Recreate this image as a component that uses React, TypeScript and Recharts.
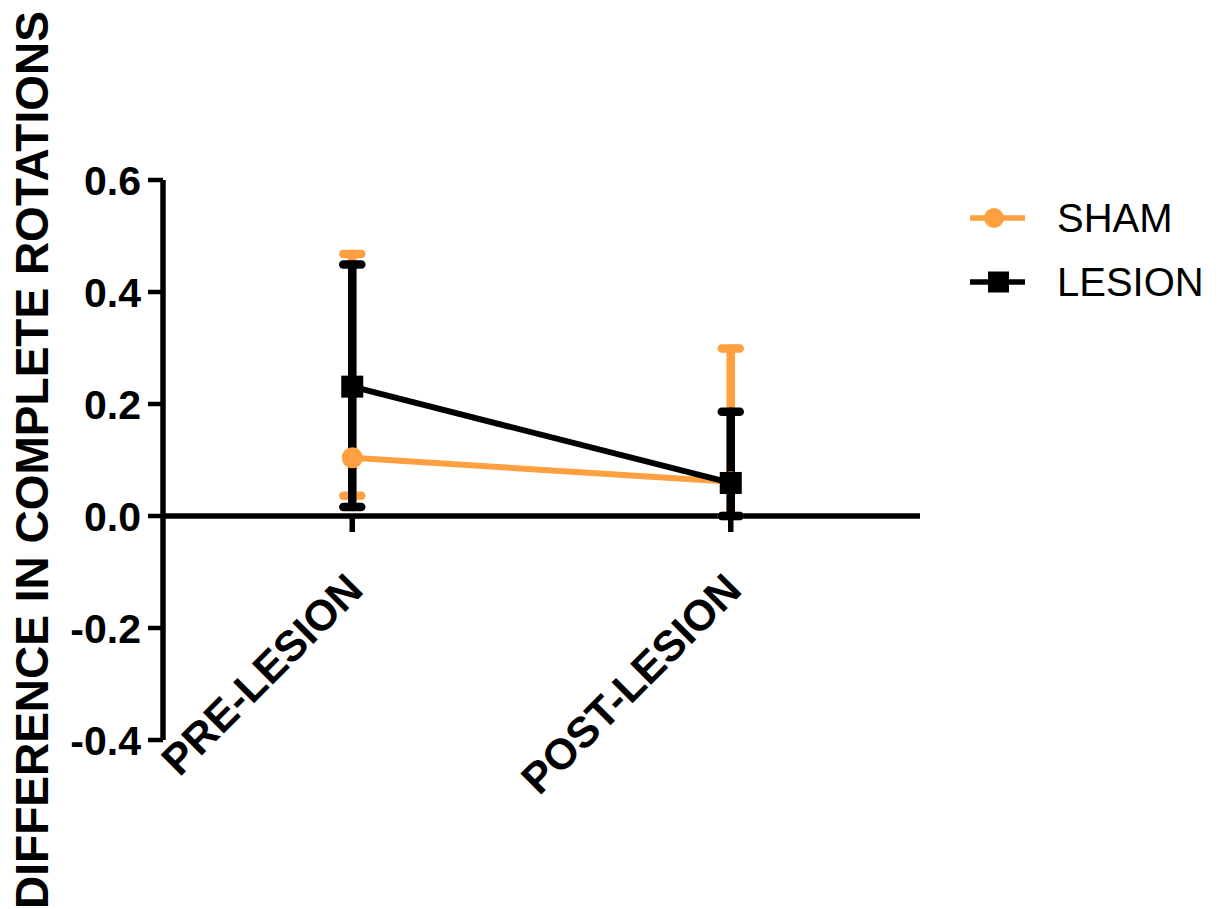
import { LineChart, Line, XAxis, YAxis, ErrorBar, ReferenceLine, Legend, Label } from "recharts";

const phases = ["PRE-LESION", "POST-LESION"];

const shamMean = [0.104, 0.061];
const shamLow = [0.036, 0.0];
const shamHigh = [0.468, 0.299];

const lesionMean = [0.231, 0.059];
const lesionLow = [0.016, 0.0];
const lesionHigh = [0.449, 0.186];

const seriesOrder = ["SHAM", "LESION"];
const yTicks = [-0.4, -0.2, 0, 0.2, 0.4, 0.6];
const Y_MIN = -0.4;
const Y_MAX = 0.6;

const ORANGE = "#FFA040";
const FONT = "'Liberation Sans', Arial, sans-serif";
const MARGIN = { top: 180, right: 305, bottom: 139, left: 0 };
const AXIS_W = 5.5;

const data = phases.map((phase, i) => ({
  phase,
  sham: shamMean[i],
  shamErr: [shamMean[i] - shamLow[i], shamHigh[i] - shamMean[i]],
  lesion: lesionMean[i],
  lesionErr: [lesionMean[i] - lesionLow[i], lesionHigh[i] - lesionMean[i]],
}));

// x ticks sit on the zero line rather than at the bottom of the plot
function PhaseTick({ x, y, payload }: any) {
  const plotH = y - MARGIN.top;
  const zeroY = y - ((0 - Y_MIN) / (Y_MAX - Y_MIN)) * plotH;
  const tx = x + 13;
  const ty = zeroY + 76;
  return (
    <g>
      <line x1={x} y1={zeroY} x2={x} y2={zeroY + 16} stroke="#000" strokeWidth={AXIS_W} />
      <text
        x={tx}
        y={ty}
        transform={`rotate(-45, ${tx}, ${ty})`}
        textAnchor="end"
        fontFamily={FONT}
        fontWeight="bold"
        fontSize={43}
        fill="#000"
      >
        {payload.value}
      </text>
    </g>
  );
}

function YTitle({ viewBox }: any) {
  const x = viewBox.x + 48;
  const y = viewBox.y + viewBox.height / 2;
  return (
    <text
      x={x}
      y={y}
      transform={`rotate(-90, ${x}, ${y})`}
      textAnchor="middle"
      fontFamily={FONT}
      fontWeight="bold"
      fontSize={46}
      fill="#000"
    >
      DIFFERENCE IN COMPLETE ROTATIONS
    </text>
  );
}

function SquareDot(props: any) {
  const { cx, cy, index } = props;
  return <rect key={`sq-${index}`} x={cx - 11} y={cy - 11} width={22} height={22} fill="#000" />;
}

function LegendBox({ payload }: any) {
  const items = [...(payload || [])].sort(
    (a: any, b: any) => seriesOrder.indexOf(a.value) - seriesOrder.indexOf(b.value)
  );
  return (
    <svg width={250} height={130}>
      {items.map((item: any, i: number) => {
        const cy = 23 + i * 64;
        return (
          <g key={item.value}>
            <line x1={5} y1={cy} x2={60} y2={cy} stroke={item.color} strokeWidth={5.5} />
            {item.type === "square" ? (
              <rect x={23} y={cy - 10.5} width={21} height={21} fill={item.color} />
            ) : (
              <circle cx={29} cy={cy} r={10} fill={item.color} />
            )}
            <text x={92} y={cy + 14} fontFamily={FONT} fontSize={40} fill="#000">
              {item.value}
            </text>
          </g>
        );
      })}
    </svg>
  );
}

export default function App() {
  return (
    <div style={{ position: "absolute", left: 0, top: 0, background: "#fff" }}>
      <LineChart width={1225} height={909} data={data} margin={MARGIN}>
        <XAxis
          dataKey="phase"
          scale="band"
          height={30}
          axisLine={false}
          tickLine={false}
          tickSize={0}
          tickMargin={0}
          tick={<PhaseTick />}
          interval={0}
        />
        <YAxis
          width={163}
          domain={[Y_MIN, Y_MAX]}
          ticks={yTicks}
          tickFormatter={(v: number) => v.toFixed(1)}
          axisLine={{ stroke: "#000", strokeWidth: AXIS_W }}
          tickLine={{ stroke: "#000", strokeWidth: 4.5 }}
          tickSize={15}
          tickMargin={7}
          tick={{ fill: "#000", fontSize: 41, fontWeight: "bold", fontFamily: FONT }}
        >
          <Label content={<YTitle />} />
        </YAxis>
        <ReferenceLine y={0} stroke="#000" strokeWidth={AXIS_W} />
        <Legend
          layout="vertical"
          align="center"
          verticalAlign="middle"
          wrapperStyle={{ left: 965, top: 195 }}
          content={<LegendBox />}
        />
        <Line
          dataKey="sham"
          name="SHAM"
          stroke={ORANGE}
          strokeWidth={6}
          legendType="circle"
          dot={{ r: 10.5, fill: ORANGE, stroke: "none" }}
          activeDot={false}
          isAnimationActive={false}
        >
          <ErrorBar
            dataKey="shamErr"
            direction="y"
            width={9}
            stroke={ORANGE}
            strokeWidth={8.5}
            strokeLinecap="round"
            isAnimationActive={false}
          />
        </Line>
        <Line
          dataKey="lesion"
          name="LESION"
          stroke="#000"
          strokeWidth={6}
          legendType="square"
          dot={SquareDot}
          activeDot={false}
          isAnimationActive={false}
        >
          <ErrorBar
            dataKey="lesionErr"
            direction="y"
            width={9}
            stroke="#000"
            strokeWidth={8.5}
            strokeLinecap="round"
            isAnimationActive={false}
          />
        </Line>
      </LineChart>
    </div>
  );
}
